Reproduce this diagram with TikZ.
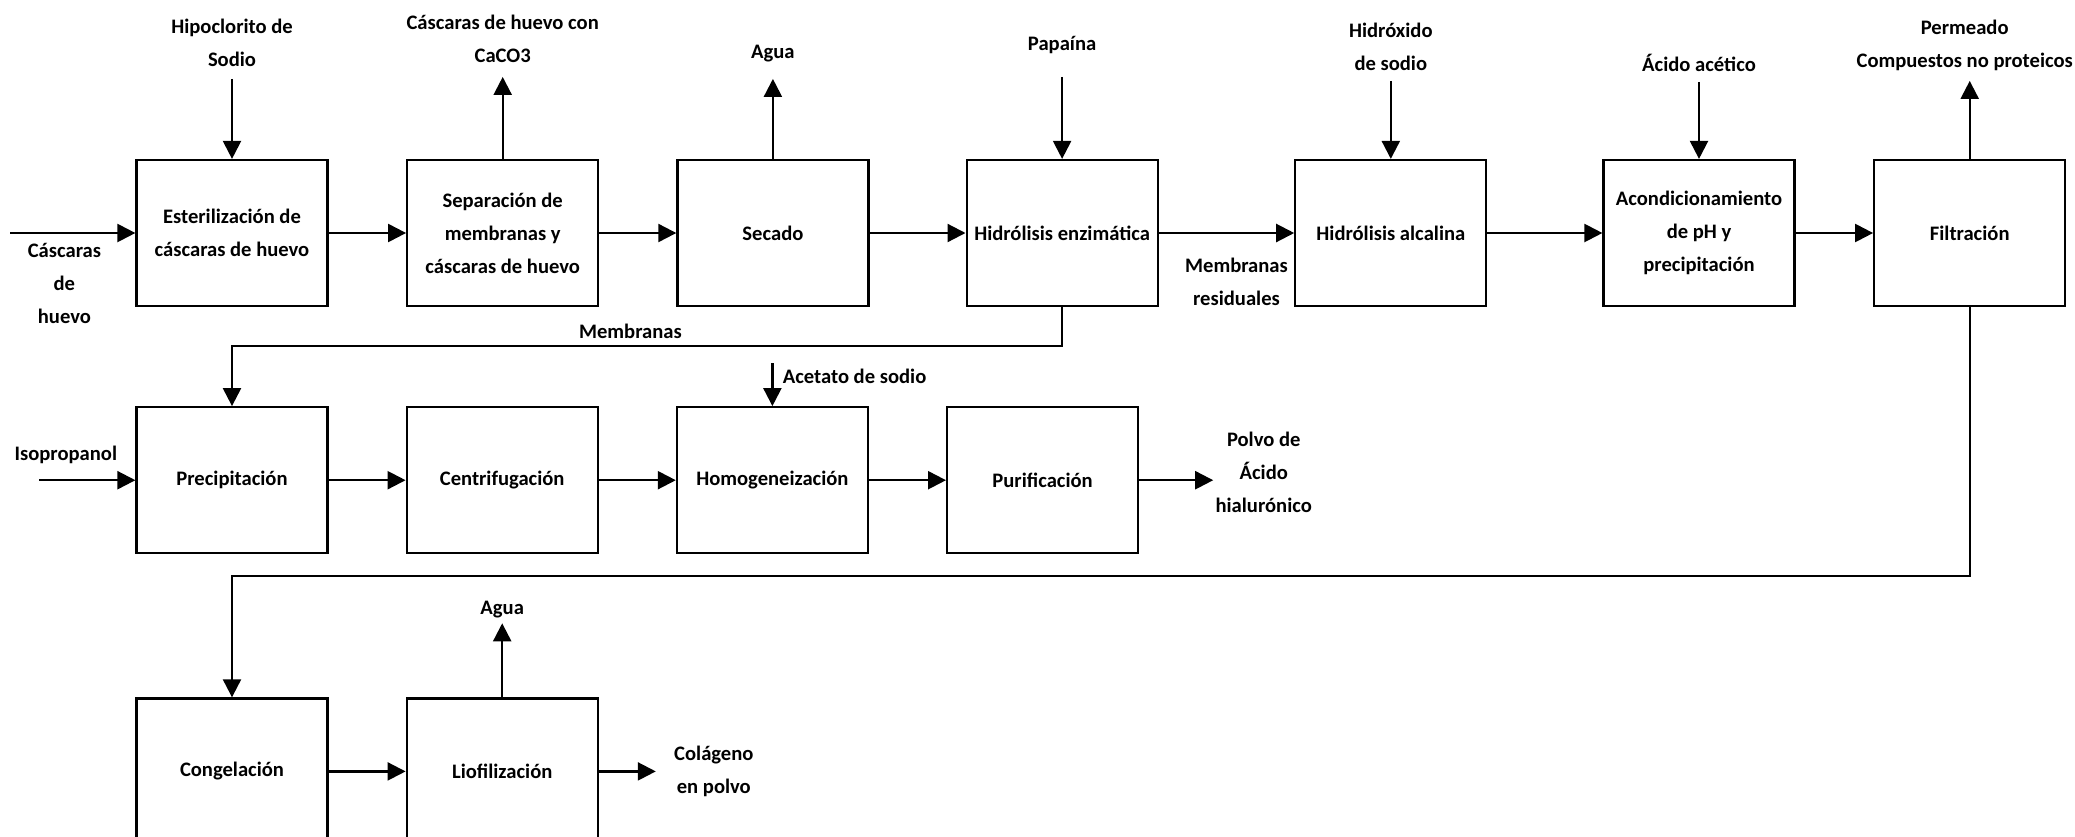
\documentclass[tikz,border=0pt]{standalone}
\usepackage{fontspec}
\setmainfont{Carlito}
\usetikzlibrary{arrows.meta,positioning}

\begin{document}
\begin{tikzpicture}[
    font=\fontsize{10.3}{16.5}\selectfont\bfseries,
    >={Triangle[length=9pt,width=9pt]},
    node distance=38.5pt,
    stage/.style={draw, line width=1.1pt, align=center, minimum width=95.5pt, minimum height=73pt, inner sep=2pt},
    lbl/.style={align=center, inner sep=1pt},
    flow/.style={->, line width=1.1pt}
]
\useasboundingbox (0,0) rectangle (1037.5pt,-418pt);

% Top row (eggshell line)
\node[stage] (esteril) at (116pt,-116.5pt) {Esterilización de\\cáscaras de huevo};
\node[stage, right=38.75pt of esteril] (separ) {Separación de\\membranas y\\cáscaras de huevo};
\node[stage, right=38.5pt of separ] (secado) {Secado};
\node[stage, right=48pt of secado] (enzim) {Hidrólisis enzimática};
\node[stage, right=67.75pt of enzim] (alcal) {Hidrólisis alcalina};
\node[stage, right=57.5pt of alcal] (acond) {Acondicionamiento\\de pH y\\precipitación};
\node[stage, right=38.75pt of acond] (filtr) {Filtración};

% Hyaluronic acid row
\node[stage, below=49.5pt of esteril] (precip) {Precipitación};
\node[stage, right=of precip] (centri) {Centrifugación};
\node[stage, right=of centri] (homog) {Homogeneización};
\node[stage, right=of homog] (purif) {Purificación};

% Collagen row
\node[stage, below=71.5pt of precip] (congel) {Congelación};
\node[stage, right=of congel] (liof) {Liofilización};

% Inputs and outputs (top row)
\coordinate[left=62.5pt of esteril] (shellIn);
\node[lbl, below left=4pt and 16pt of esteril.west] (cascaras) {Cáscaras\\de\\huevo};
\coordinate[above=40pt of esteril] (hipoIn);
\node[lbl, above=5pt of hipoIn] (hipo) {Hipoclorito de\\Sodio};
\coordinate[above=41pt of separ] (caco3Out);
\node[lbl, above=6pt of caco3Out] (caco3) {Cáscaras de huevo con\\CaCO3};
\coordinate[above=40pt of secado] (aguaOut);
\node[lbl, above=7.5pt of aguaOut] (agua) {Agua};
\coordinate[above=41pt of enzim] (papIn);
\node[lbl, above=10.5pt of papIn] (papaina) {Papaína};
\node[lbl, below left=11.5pt and 2pt of alcal.west] (membres) {Membranas\\residuales};
\coordinate[above=39pt of alcal] (naohIn);
\node[lbl, above=4pt of naohIn] (naoh) {Hidróxido\\de sodio};
\coordinate[above=38.5pt of acond] (acetIn);
\node[lbl, above=4pt of acetIn] (acetico) {Ácido acético};
\coordinate[above=39pt of filtr] (permOut);
\node[lbl, above=4pt of permOut, xshift=-2.5pt] (perm) {Permeado\\Compuestos no proteicos};

% Inputs and outputs (lower rows)
\coordinate[left=48pt of precip] (isoIn);
\node[lbl, above left=7pt and 8pt of precip.west] (iso) {Isopropanol};
\coordinate[above=21.5pt of homog] (acetatoIn);
\node[lbl, right=4pt of acetatoIn, yshift=-6.5pt] (acetato) {Acetato de sodio};
\coordinate[right=37pt of purif] (hialOut);
\node[lbl, right=0pt of hialOut, yshift=4pt] (hial) {Polvo de\\Ácido\\hialurónico};
\coordinate[above=37pt of liof] (agua2Out);
\node[lbl, above=1.5pt of agua2Out] (agua2) {Agua};
\coordinate[right=28.5pt of liof] (colOut);
\node[lbl, right=8pt of colOut] (colageno) {Colágeno\\en polvo};

% Flows (top row)
\draw[flow] (shellIn) -- (esteril);
\draw[flow] (esteril) -- (separ);
\draw[flow] (separ) -- (secado);
\draw[flow] (secado) -- (enzim);
\draw[flow] (enzim) -- (alcal);
\draw[flow] (alcal) -- (acond);
\draw[flow] (acond) -- (filtr);
\draw[flow] (hipoIn) -- (esteril);
\draw[flow] (separ) -- (caco3Out);
\draw[flow] (secado) -- (aguaOut);
\draw[flow] (papIn) -- (enzim);
\draw[flow] (naohIn) -- (alcal);
\draw[flow] (acetIn) -- (acond);
\draw[flow] (filtr) -- (permOut);

% Branch flows
\draw[flow] (enzim.south) -- ++(0,-19.5pt) -| node[lbl, above=2pt, pos=0.26] (membr) {Membranas} (precip.north);
\draw[flow] (filtr.south) -- ++(0,-134.5pt) -| (congel.north);

% Flows (lower rows)
\draw[flow] (isoIn) -- (precip);
\draw[flow] (precip) -- (centri);
\draw[flow] (centri) -- (homog);
\draw[flow] (homog) -- (purif);
\draw[flow] (acetatoIn) -- (homog);
\draw[flow] (purif) -- (hialOut);
\draw[flow] (congel) -- (liof);
\draw[flow] (liof) -- (agua2Out);
\draw[flow] (liof) -- (colOut);

\end{tikzpicture}
\end{document}
